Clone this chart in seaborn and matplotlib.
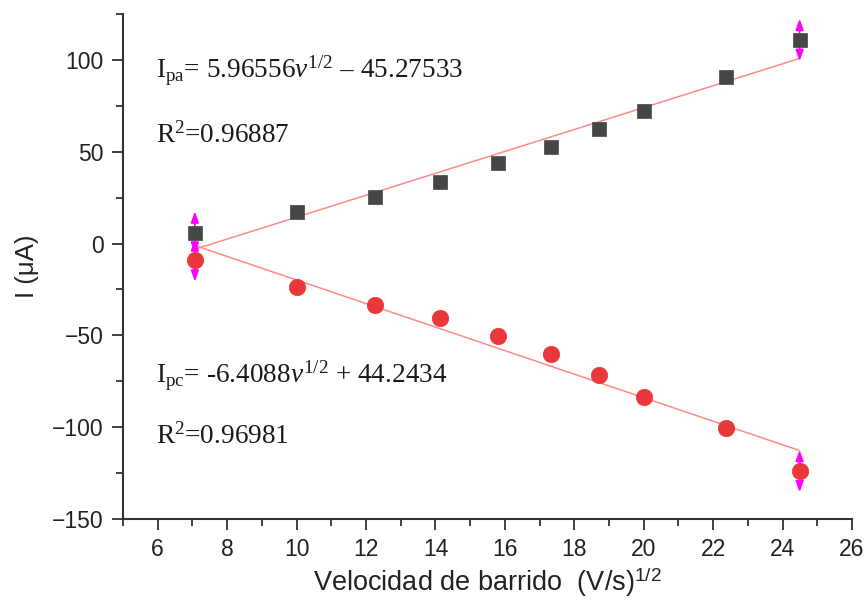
import numpy as np
import pandas as pd
import matplotlib
matplotlib.use("Agg")
import matplotlib.pyplot as plt
from matplotlib.ticker import MultipleLocator
import seaborn as sns

# Square root of scan rate, (V/s)^1/2
sqrt_rate = [7.07, 10.0, 12.25, 14.14, 15.81, 17.32, 18.71, 20.0, 22.36, 24.49]
# Anodic peak current, µA
i_pa = [6, 17, 25.5, 33.7, 44, 52.7, 62.5, 72.3, 90.8, 110.9]
# Cathodic peak current, µA
i_pc = [-9.2, -23.9, -33.7, -40.8, -50.5, -60.3, -71.7, -83.7, -100.5, -123.9]

# Linear fit coefficients (slope, intercept)
fit_pa = (5.96556, -45.27533)
fit_pc = (-6.4088, 44.2434)
r2_pa = "0.96887"
r2_pc = "0.96981"

sns.set_theme(style="ticks")
plt.rcParams["font.family"] = ["Liberation Sans", "DejaVu Sans"]
plt.rcParams["mathtext.fontset"] = "custom"
plt.rcParams["mathtext.rm"] = "Liberation Serif"
plt.rcParams["mathtext.it"] = "Liberation Serif:italic"
plt.rcParams["mathtext.sf"] = "Liberation Sans"

fig = plt.figure(figsize=(8.68, 6.01), dpi=100)
ax = fig.add_axes([0.1417, 0.1364, 0.8399, 0.8403])

df = pd.DataFrame({"x": sqrt_rate, "pa": i_pa, "pc": i_pc})
xfit = np.array([sqrt_rate[0], sqrt_rate[-1]])
fit_df = pd.DataFrame({
    "x": xfit,
    "pa": fit_pa[0] * xfit + fit_pa[1],
    "pc": fit_pc[0] * xfit + fit_pc[1],
})

line_c = "#ff8a8a"
sns.lineplot(data=fit_df, x="x", y="pa", color=line_c, lw=1.1, ax=ax, zorder=2)
sns.lineplot(data=fit_df, x="x", y="pc", color=line_c, lw=1.1, ax=ax, zorder=2)

# Double-headed markers at the first and last point of each series
for ys in (i_pa, i_pc):
    for idx in (0, -1):
        x0, y0 = sqrt_rate[idx], ys[idx]
        ax.annotate("", xy=(x0, y0 + 11.5), xytext=(x0, y0 - 11.5),
                    arrowprops=dict(arrowstyle="<|-|>,head_length=0.55,head_width=0.2",
                                    color="#ff00ff", lw=1.2, shrinkA=0, shrinkB=0),
                    zorder=3)

sns.scatterplot(data=df, x="x", y="pa", marker="s", s=115, color="#464646",
                edgecolor="#464646", linewidth=0.5, ax=ax, zorder=4)
sns.scatterplot(data=df, x="x", y="pc", marker="o", s=140, color="#e8383a",
                edgecolor="#e8383a", linewidth=0.5, ax=ax, zorder=4)

ax.set_xlim(5, 26)
ax.set_ylim(-150, 125)
ax.xaxis.set_major_locator(MultipleLocator(2))
ax.xaxis.set_minor_locator(MultipleLocator(1))
ax.yaxis.set_major_locator(MultipleLocator(50))
ax.yaxis.set_minor_locator(MultipleLocator(25))
ax.tick_params(axis="both", which="major", direction="out", length=8, width=1.3,
               labelsize=16.5, color="#333333", labelcolor="#222222", pad=6)
ax.tick_params(axis="both", which="minor", direction="out", length=5, width=1.3,
               color="#333333")
sns.despine(ax=ax)
for sp in ("left", "bottom"):
    ax.spines[sp].set_linewidth(1.5)
    ax.spines[sp].set_color("#333333")

ax.set_xlabel(r"Velocidad de barrido  (V/s)$^{\mathsf{1/2}}$", fontsize=19.5,
              color="#222222", labelpad=3)
ax.set_ylabel("I (μA)", fontsize=18.5, color="#222222", labelpad=9)

serif = dict(family="Liberation Serif", fontsize=19.6, color="#1a1a1a", va="center")
tx = 5.95
ax.text(tx, 94, r"I$_{\mathrm{pa}}$= %.5f$\mathit{v}^{\mathrm{1/2}}$ – %.5f"
        % (fit_pa[0], -fit_pa[1]), **serif)
ax.text(tx, 59, r"R$^{\mathrm{2}}$=" + r2_pa, **serif)
ax.text(tx, -72, r"I$_{\mathrm{pc}}$= %.4f$\mathit{v}^{\mathrm{1/2}}$ + %.4f"
        % (fit_pc[0], fit_pc[1]), **serif)
ax.text(tx, -105, r"R$^{\mathrm{2}}$=" + r2_pc, **serif)

fig.savefig("out.png", dpi=100)
